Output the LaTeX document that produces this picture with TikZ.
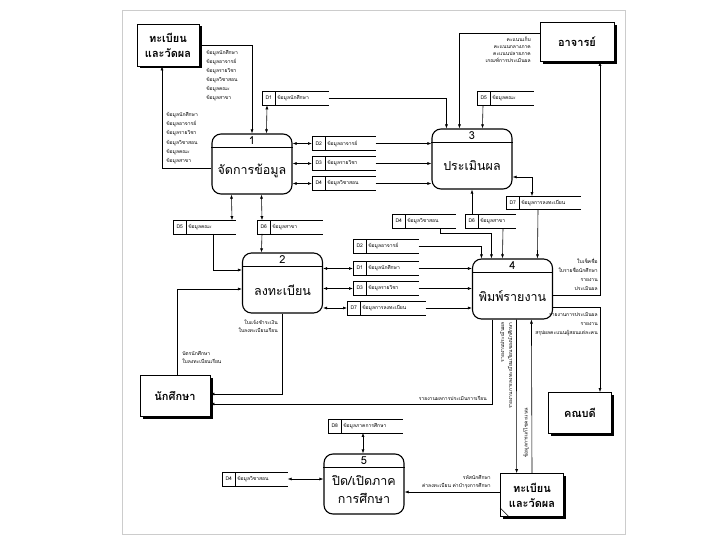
\documentclass[tikz,border=0pt]{standalone}
\usepackage{fontspec}
\setmainfont[Script=Thai]{Loma}
\usetikzlibrary{arrows.meta,shadows,positioning}

\newcommand{\storeid}[1]{\makebox[13pt]{#1}\hspace{2pt}}

\tikzset{
entity/.style = {draw, fill=white, line width=0.7pt, align=center,
  font=\bfseries\fontsize{11}{15}\selectfont,
  drop shadow={shadow xshift=2.5pt, shadow yshift=-2.5pt, fill=black, opacity=1}},
process/.style = {draw, line width=1.1pt, rounded corners=9pt, minimum width=80pt,
  minimum height=60pt, label={[pnum]center:#1},
  append after command={([yshift=-14pt]\tikzlastnode.north west)
    edge[-, line width=1pt] ([yshift=-14pt]\tikzlastnode.north east)}},
pnum/.style = {inner sep=0pt, yshift=23pt, font=\fontsize{11}{11}\selectfont},
pname/.style = {align=center, font=\fontsize{12.5}{18}\selectfont},
store/.style = {anchor=west, text width=#1, inner xsep=0pt, inner ysep=0pt,
  minimum height=13pt, align=left, font=\fontsize{5}{6}\selectfont,
  append after command={(\tikzlastnode.north east) edge[-] (\tikzlastnode.north west)
    (\tikzlastnode.north west) edge[-] (\tikzlastnode.south west)
    (\tikzlastnode.south west) edge[-] (\tikzlastnode.south east)
    ([xshift=13pt]\tikzlastnode.north west) edge[-] ([xshift=13pt]\tikzlastnode.south west)}},
flow/.style = {inner sep=0pt, font=\fontsize{5}{8}\selectfont}
}

\begin{document}
\begin{tikzpicture}[x=1pt, y=-1pt, node distance=20pt, line width=0.6pt,
  >={Latex[length=4pt,width=3pt]}]
\useasboundingbox (0,0) rectangle (720,540);
\draw[gray!40, thin] (122,10) rectangle (625,534);

\node[entity, minimum width=62pt, minimum height=42pt] (regtop) at (168,45) {ทะเบียน\\และวัดผล};
\node[entity, minimum width=74pt, minimum height=39pt] (teacher) at (577,42) {อาจารย์};
\node[entity, minimum width=70pt, minimum height=41pt] (student) at (175,396) {นักศึกษา};
\node[entity, minimum width=63pt, minimum height=41pt] (dean) at (580,413) {คณบดี};
\node[entity, minimum width=63pt, minimum height=43pt] (regbot) at (532,495) {ทะเบียน\\และวัดผล};
\draw ([yshift=9pt]regbot.south west) -- ([xshift=9pt]regbot.south west);

\node[process=1] (p1) at (252,164) {};
\node[pname] (p1t) at ([yshift=-7pt]p1.center) {จัดการข้อมูล};
\node[process=3] (p3) at (472,159) {};
\node[pname] (p3t) at ([yshift=-7pt]p3.center) {ประเมินผล};
\node[process=2] (p2) at (282.5,283) {};
\node[pname] (p2t) at ([yshift=-7pt]p2.center) {ลงทะเบียน};
\node[process=4] (p4) at (512.5,289) {};
\node[pname] (p4t) at ([yshift=-7pt]p4.center) {พิมพ์รายงาน};
\node[process=5] (p5) at (364,484) {};
\node[pname] (p5t) at ([yshift=-6pt]p5.center) {ปิด/เปิดภาค\\การศึกษา};

\node[store=66pt] (d1a) at (262,98.5) {\storeid{D1}ข้อมูลนักศึกษา};
\node[store=63pt] (d2a) at (312,143.5) {\storeid{D2}ข้อมูลอาจารย์};
\node[store=63pt, below of=d2a] (d3a) {\storeid{D3}ข้อมูลรายวิชา};
\node[store=63pt, below of=d3a] (d4a) {\storeid{D4}ข้อมูลวิชาสอน};
\node[store=56pt] (d5a) at (477,98.5) {\storeid{D5}ข้อมูลคณะ};
\node[store=74pt] (d7a) at (506,203) {\storeid{D7}ข้อมูลการลงทะเบียน};
\node[store=63pt] (d4b) at (392,221.5) {\storeid{D4}ข้อมูลวิชาสอน};
\node[store=50pt] (d6b) at (465,221.5) {\storeid{D6}ข้อมูลสาขา};
\node[store=65pt] (d2b) at (353,246) {\storeid{D2}ข้อมูลอาจารย์};
\node[store=65pt] (d1b) at (353,268.5) {\storeid{D1}ข้อมูลนักศึกษา};
\node[store=65pt, below of=d1b] (d3b) {\storeid{D3}ข้อมูลรายวิชา};
\node[store=78pt] (d7b) at (347,308) {\storeid{D7}ข้อมูลการลงทะเบียน};
\node[store=62pt] (d5c) at (173,227) {\storeid{D5}ข้อมูลคณะ};
\node[store=65pt] (d6c) at (257,227) {\storeid{D6}ข้อมูลสาขา};
\node[store=74pt] (d8) at (328,426) {\storeid{D8}ข้อมูลภาคการศึกษา};
\node[store=65pt] (d4d) at (222,479) {\storeid{D4}ข้อมูลวิชาสอน};

\draw[->] (regtop.east) -| (p1.north);
\draw[->] ([yshift=-4pt]p1.west) -| ([xshift=-6pt]regtop.south);
\draw[<->] ([xshift=5pt]d1a.south west) -- ([xshift=55pt]p1.north west);
\draw[->] (d1a.east) -| ([xshift=15pt]p3.north west);
\path[<->] (d2a.west -| p1.east) edge (d2a.west)
  (d3a.west -| p1.east) edge (d3a.west)
  (d4a.west -| p1.east) edge (d4a.west);
\path[->] (d2a.east) edge (d2a.east -| p3.west)
  (d3a.east) edge (d3a.east -| p3.west)
  (d4a.east) edge (d4a.east -| p3.west);
\draw[->] ([yshift=9pt]teacher.west) -| ([xshift=28pt]p3.north west);
\draw[->] ([xshift=6pt]d5a.south west) -- ([xshift=51pt]p3.north west);
\draw[<->] ([yshift=-18pt]p3.east) -| ([xshift=26pt]d7a.north west);
\draw[->] ([xshift=32pt]d7a.south west) -- ([xshift=65.5pt]p4.north west);
\draw[->] ([xshift=7pt]d6b.north west) -- (p3.south);
\draw[->] ([xshift=38pt]d6b.south west) -- ([xshift=30.5pt]p4.north west);
\draw[->] ([xshift=48pt]d4b.south west) -- ++(0,5) -| ([xshift=19.5pt]p4.north west);
\draw[->] (d2b.east) -| ([xshift=9.5pt]p4.north west);
\path[<->] (d1b.west -| p2.east) edge (d1b.west)
  (d3b.west -| p2.east) edge (d3b.west)
  (d7b.west -| p2.east) edge (d7b.west);
\path[->] (d1b.east) edge (d1b.east -| p4.west)
  (d3b.east) edge (d3b.east -| p4.west)
  (d7b.east) edge (d7b.east -| p4.west);
\draw[->] ([xshift=40pt]d5c.south west) |- ([yshift=13pt]p2.west);
\draw[<->] ([xshift=59pt]d5c.north west) -- ([xshift=20pt]p1.south west);
\draw[<->] ([xshift=5pt]d6c.north west) -- ([xshift=50pt]p1.south west);
\draw[->] ([xshift=5pt]d6c.south west) -- ([xshift=19.5pt]p2.north west);
\draw[->] ([xshift=2pt]student.north) |- ([yshift=-6pt]p2.west);
\draw[->] (p2.south) |- ([yshift=2pt]student.east);
\draw[->] ([xshift=20.5pt]p4.south west) |- ([yshift=-8pt]student.east);
\draw[->] ([xshift=44.5pt]p4.south west) -- ([xshift=16.5pt]regbot.north west);
\draw[->] (regbot.north) -- ([xshift=59.5pt]p4.south west);
\draw[->] ([yshift=3pt]regbot.west) -- ([yshift=-8pt]p5.east);
\draw[<->] ([xshift=35pt]d8.south west) -- ([xshift=-1pt]p5.north);
\draw[<->] (d4d.east) -- (d4d.east -| p5.west);
\draw[->] ([yshift=-6pt]p4.east) -| ([xshift=23pt]teacher.south);
\draw[->] ([yshift=-18pt]p4.east) -| ([xshift=20pt]dean.north);

\node[flow, anchor=north west, align=left, font=\fontsize{5}{9}\selectfont] (fa) at (206,50)
  {ข้อมูลนักศึกษา\\ข้อมูลอาจารย์\\ข้อมูลรายวิชา\\ข้อมูลวิชาสอน\\ข้อมูลคณะ\\ข้อมูลสาขา};
\node[flow, anchor=north west, align=left, font=\fontsize{5}{9.2}\selectfont] (fb) at (166,112)
  {ข้อมูลนักศึกษา\\ข้อมูลอาจารย์\\ข้อมูลรายวิชา\\ข้อมูลวิชาสอน\\ข้อมูลคณะ\\ข้อมูลสาขา};
\node[flow, anchor=north east, align=right, font=\fontsize{5}{6.8}\selectfont] (fc) at (531,37)
  {คะแนนเก็บ\\คะแนนกลางภาค\\คะแนนปลายภาค\\เกณฑ์การประเมินผล};
\node[flow, anchor=south east, align=right, font=\fontsize{5}{9}\selectfont] (fd) at (598,291)
  {ใบเช็คชื่อ\\ใบรายชื่อนักศึกษา\\รายงาน\\ประเมินผล};
\node[flow, anchor=north east, align=right, font=\fontsize{5}{9}\selectfont] (fe) at (598,312)
  {รายงานการประเมินผล\\รายงาน\\สรุปผลคะแนนผู้สอนแต่ละคน};
\node[flow, anchor=south west, align=left] (ff) at (182,364) {บัตรนักศึกษา\\ใบลงทะเบียนเรียน};
\node[flow, anchor=north east, align=right, font=\fontsize{5}{7.5}\selectfont] (fg) at (278,320)
  {ใบแจ้งชำระเงิน\\ใบลงทะเบียนเรียน};
\node[flow, anchor=south east] (fh) at (487,401) {รายงานผลการประเมินการเรียน};
\node[flow, anchor=east, rotate=90] (fi) at (502,322) {รายงานประเมินผล};
\node[flow, anchor=east, rotate=90] (fj) at (510,322) {รายงานการลงทะเบียนเรียนของนักศึกษา};
\node[flow, anchor=west, rotate=90] (fk) at (526,458) {ข้อมูลการแก้ไขคะแนน};
\node[flow, anchor=south east, align=right, font=\fontsize{5}{7.5}\selectfont] (fl) at (491,489)
  {รหัสนักศึกษา\\ค่าลงทะเบียน ค่าบำรุงการศึกษา};
\end{tikzpicture}
\end{document}
